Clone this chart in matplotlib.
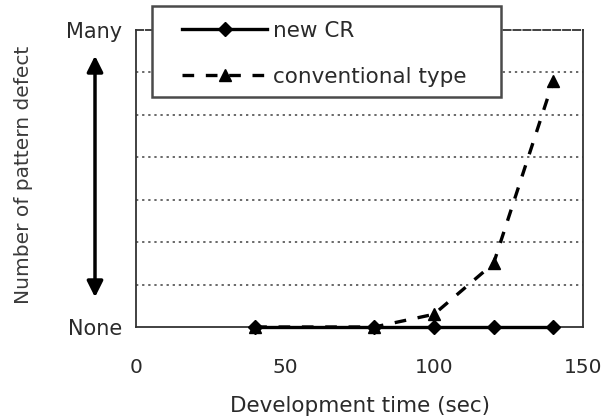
import matplotlib.pyplot as plt
from matplotlib.patches import Rectangle

# data
TIME = [40, 80, 100, 120, 140]
NEW_CR = [0, 0, 0, 0, 0]
CONVENTIONAL = [0, 0, 0.3, 1.5, 5.8]
Y_LABELS = ['None', 'Many']

W, H = 612, 418
TXT = '#2a2a2a'
plt.rcParams['font.family'] = ['DejaVu Sans']

fig = plt.figure(figsize=(W/100, H/100), dpi=100)
ax = fig.add_axes([136/W, 1-327/H, (583-136)/W, (327-30)/H])

ax.plot(TIME, NEW_CR, color='black', linewidth=2.4, marker='D',
        markersize=7, label='new CR', zorder=4, clip_on=False)
ax.plot(TIME, CONVENTIONAL, color='black', linewidth=2.4,
        linestyle=(0, (3.5, 3.5)), marker='^', markersize=9,
        label='conventional type', zorder=3, clip_on=False)

ax.set_xlim(0, 150)
ax.set_ylim(0, 7)
ax.set_xticks([0, 50, 100, 150])
ax.set_yticks([0, 7])
ax.set_yticklabels(Y_LABELS)
for y in range(1, 7):
    ax.axhline(y, color='#404040', linestyle=(0, (1.5, 2.5)), linewidth=1.1, zorder=1)
ax.tick_params(axis='x', length=0, pad=22, labelsize=14.5, colors=TXT)
ax.tick_params(axis='y', length=0, pad=10, labelsize=15, colors=TXT)
for s in ax.spines.values():
    s.set_linewidth(1.3)
    s.set_color('#333333')
ax.spines['top'].set_linestyle((0, (4, 1.5)))

ax.set_xlabel('Development time (sec)', fontsize=15.5, color=TXT, labelpad=14)
fig.text(24/W, 1-175/H, 'Number of pattern defect', rotation=90,
         ha='center', va='center', fontsize=14.5, color='#3a3a3a')

# double-headed arrow between None and Many
ax.annotate('', xy=(95/W, 1-53/H), xytext=(95/W, 1-300/H),
            xycoords='figure fraction', textcoords='figure fraction',
            arrowprops=dict(arrowstyle='<|-|>', color='black', lw=2.5,
                            mutation_scale=24))

# legend frame drawn separately so it can sit over the top of the axes
fig.patches.append(Rectangle((152/W, 1-97/H), (501-152)/W, (97-6)/H,
                             transform=fig.transFigure, facecolor='white',
                             edgecolor='#4a4a4a', linewidth=1.8, zorder=5))
leg = fig.legend(loc='upper left', bbox_to_anchor=(182/W, 1-21/H),
                 fontsize=15.5, frameon=False, handlelength=3.95,
                 handletextpad=0.3, borderpad=0, borderaxespad=0,
                 labelspacing=1.2)
leg.set_zorder(6)
for t in leg.get_texts():
    t.set_color(TXT)

fig.savefig('out.png', dpi=100)
